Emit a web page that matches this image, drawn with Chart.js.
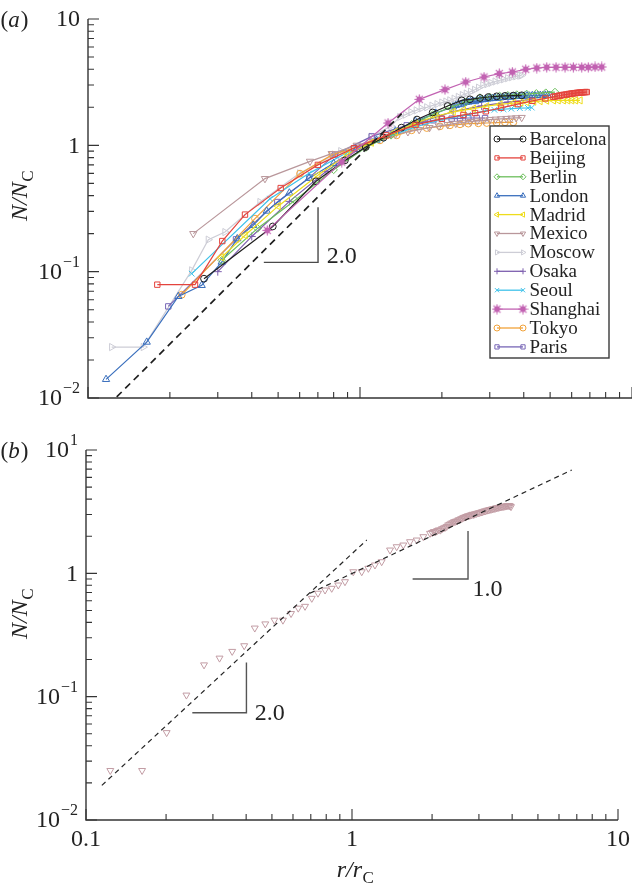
<!DOCTYPE html>
<html lang="en">
<head>
<meta charset="utf-8">
<title>N/N_C versus r/r_C</title>
<script src="https://cdn.jsdelivr.net/npm/chart.js@4.4.1/dist/chart.umd.min.js"></script>
<style>
  html, body { margin: 0; padding: 0; background: #fff; }
  #page { position: relative; width: 632px; height: 890px; overflow: hidden; }
  #page canvas { position: absolute; left: 0; }
  #chartA { top: 0; }
  #chartB { top: 430px; }
</style>
</head>
<body>
<div id="page">
  <canvas id="chartA" width="632" height="430"></canvas>
  <canvas id="chartB" width="632" height="460"></canvas>
</div>
<script>
// 1. data, panel (a): one x / y pair per city
const cities = ['Barcelona', 'Beijing', 'Berlin', 'London', 'Madrid', 'Mexico',
                'Moscow', 'Osaka', 'Seoul', 'Shanghai', 'Tokyo', 'Paris'];

const barcelonaX = [0.267, 0.478, 0.689, 0.88, 1.05, 1.22, 1.42, 1.62, 1.85, 2.1, 2.365, 2.537, 2.762, 2.963, 3.18, 3.412, 3.661, 3.932];
const barcelonaY = [0.088, 0.228, 0.519, 0.76, 0.97, 1.15, 1.38, 1.6, 1.82, 2.05, 2.271, 2.313, 2.369, 2.412, 2.443, 2.463, 2.477, 2.489];

const beijingX = [0.1798, 0.2474, 0.3117, 0.3777, 0.511, 0.7, 0.95, 1.25, 1.6, 2.0, 2.4, 2.65, 2.9, 3.3, 3.8, 4.3, 4.8,
                  5.14, 5.22, 5.3, 5.38, 5.46, 5.54, 5.62, 5.7, 5.78, 5.86, 5.94, 6.02, 6.1, 6.18, 6.26, 6.34, 6.42, 6.5, 6.58, 6.66, 6.74, 6.82];
const beijingY = [0.0789, 0.0789, 0.1747, 0.283, 0.459, 0.7, 0.95, 1.2, 1.45, 1.62, 1.74, 1.8, 1.86, 1.98, 2.12, 2.25, 2.35,
                  2.42, 2.44, 2.45, 2.47, 2.48, 2.5, 2.51, 2.52, 2.53, 2.55, 2.56, 2.57, 2.58, 2.59, 2.6, 2.61, 2.61, 2.62, 2.63, 2.63, 2.64, 2.64];

const berlinX = [0.31, 0.42, 0.577, 0.8, 1.05, 1.3, 1.55, 1.85, 2.15, 2.45, 2.76, 3.0, 3.26, 3.5, 3.77, 4.1, 4.45, 4.82, 5.21];
const berlinY = [0.123, 0.22, 0.367, 0.64, 0.96, 1.2, 1.47, 1.75, 2.0, 2.2, 2.386, 2.412, 2.463, 2.489, 2.52, 2.55, 2.58, 2.61, 2.642];

const londonX = [0.1165, 0.1644, 0.2148, 0.2618, 0.31, 0.3538, 0.4049, 0.4539, 0.55, 0.65, 0.8, 0.97, 1.15, 1.35, 1.6, 1.9,
                 2.2, 2.25, 2.3, 2.35, 2.4, 2.45, 2.5, 2.55, 2.6, 2.65, 2.7, 2.76, 2.82, 2.88, 2.94, 3.0, 3.07, 3.14, 3.21, 3.28,
                 3.35, 3.43, 3.51, 3.59, 3.67, 3.75, 3.84, 3.93, 4.02, 4.11, 4.2, 4.3, 4.4, 4.5, 4.6, 4.7, 4.8, 4.9, 4.99];
const londonY = [0.01404, 0.0277, 0.0637, 0.0779, 0.1191, 0.1825, 0.2326, 0.302, 0.42, 0.55, 0.72, 0.93, 1.1, 1.3, 1.55, 1.8,
                 2.02, 2.07, 2.12, 2.1, 2.16, 2.19, 2.2, 2.23, 2.24, 2.22, 2.27, 2.29, 2.3, 2.31, 2.33, 2.34, 2.35, 2.37, 2.36, 2.38,
                 2.4, 2.41, 2.42, 2.41, 2.43, 2.44, 2.45, 2.44, 2.46, 2.47, 2.46, 2.48, 2.47, 2.48, 2.49, 2.48, 2.5, 2.49, 2.49];

const madridX = [0.31, 0.378, 0.5, 0.7, 0.9, 1.1, 1.35, 1.6, 1.9, 2.2, 2.4, 2.61, 2.92, 3.27, 3.66, 3.9, 4.1, 4.35, 4.59, 4.85, 5.14, 5.35, 5.59, 5.8, 6.0, 6.2, 6.44];
const madridY = [0.13, 0.194, 0.33, 0.58, 0.85, 1.05, 1.28, 1.5, 1.7, 1.84, 1.9, 1.95, 2.04, 2.11, 2.16, 2.18, 2.2, 2.22, 2.24, 2.26, 2.27, 2.27, 2.27, 2.27, 2.27, 2.27, 2.27];

const mexicoX = [0.2438, 0.4473, 0.6548, 0.787, 0.9725, 1.218, 1.35, 1.5, 1.65, 1.8, 1.95, 2.1, 2.25, 2.4, 2.55, 2.7, 2.85, 3.0, 3.15, 3.3, 3.45, 3.6, 3.75, 3.93];
const mexicoY = [0.2, 0.545, 0.747, 0.86, 1.0, 1.163, 1.22, 1.28, 1.33, 1.38, 1.42, 1.46, 1.49, 1.52, 1.54, 1.56, 1.58, 1.6, 1.61, 1.62, 1.63, 1.64, 1.65, 1.66];

const moscowX = [0.1222, 0.1597, 0.2406, 0.2769, 0.3188, 0.4289, 0.6, 0.85, 1.1, 1.3, 1.4, 1.47, 1.54, 1.61, 1.68, 1.76, 1.84, 1.92, 2.0, 2.07, 2.14, 2.22, 2.3, 2.38, 2.46, 2.55, 2.64, 2.73, 2.83, 2.93, 3.03, 3.14, 3.25, 3.37, 3.49, 3.61, 3.74, 3.87, 3.93];
const moscowY = [0.0253, 0.0253, 0.1024, 0.1792, 0.2058, 0.356, 0.6, 0.9, 1.17, 1.42, 1.675, 1.75, 1.83, 1.89, 1.96, 2.0, 2.06, 2.12, 2.18, 2.22, 2.27, 2.34, 2.42, 2.5, 2.57, 2.66, 2.75, 2.86, 2.99, 3.05, 3.12, 3.2, 3.26, 3.33, 3.4, 3.46, 3.52, 3.56, 3.58];

const osakaX = [0.3, 0.4, 0.55, 0.75, 1.0, 1.3, 1.7, 2.2, 2.8, 3.5, 4.2];
const osakaY = [0.1, 0.19, 0.36, 0.62, 0.95, 1.22, 1.55, 1.85, 2.05, 2.2, 2.3];

const seoulX = [0.2406, 0.4668, 0.65, 0.9, 1.2, 1.6, 2.0, 2.5, 2.924, 3.12, 3.37, 3.6, 3.87, 4.14, 4.28];
const seoulY = [0.0964, 0.378, 0.6, 0.88, 1.12, 1.4, 1.6, 1.75, 1.893, 1.91, 1.93, 1.95, 1.97, 1.98, 1.989];

const shanghaiX = [0.4562, 0.8565, 1.268, 1.652, 2.053, 2.447, 2.857, 3.251, 3.631, 4.067, 4.465, 4.859, 5.256, 5.672, 6.085, 6.534, 6.908, 7.311, 7.737];
const shanghaiY = [0.2123, 0.738, 1.502, 2.313, 2.761, 3.171, 3.474, 3.696, 3.805, 3.998, 4.093, 4.147, 4.147, 4.147, 4.147, 4.147, 4.147, 4.17, 4.17];

const tokyoX = [0.2211, 0.4111, 0.6018, 0.791, 1.184, 1.364, 1.549, 1.759, 1.968, 2.142, 2.332, 2.502, 2.723, 2.924, 3.18, 3.412, 3.661];
const tokyoY = [0.0657, 0.263, 0.597, 0.844, 1.095, 1.2, 1.315, 1.371, 1.414, 1.44, 1.466, 1.485, 1.494, 1.502, 1.51, 1.521, 1.521];

const parisX = [0.1973, 0.35, 0.4966, 0.6509, 0.809, 1.104, 1.485, 1.616, 1.734, 1.86, 1.997, 2.173, 2.332, 2.502, 2.686, 2.882];
const parisY = [0.0531, 0.1802, 0.356, 0.555, 0.844, 1.178, 1.44, 1.494, 1.529, 1.578, 1.627, 1.627, 1.636, 1.645, 1.645, 1.645];

const cityX = [barcelonaX, beijingX, berlinX, londonX, madridX, mexicoX, moscowX, osakaX, seoulX, shanghaiX, tokyoX, parisX];
const cityY = [barcelonaY, beijingY, berlinY, londonY, madridY, mexicoY, moscowY, osakaY, seoulY, shanghaiY, tokyoY, parisY];

// 2. data, panel (b): Mexico alone
const mexicoBX = [0.1234, 0.1625, 0.201, 0.2385, 0.2778, 0.3177, 0.3545, 0.3933, 0.431, 0.472, 0.511, 0.55, 0.59, 0.628, 0.666, 0.706, 0.745, 0.792, 0.839, 0.888, 0.941, 1.011, 1.088, 1.152, 1.22, 1.293, 1.39, 1.472, 1.559, 1.652, 1.751, 1.854, 1.965,
                  2.0, 2.03, 2.06, 2.09, 2.12, 2.15, 2.18, 2.21, 2.24, 2.27, 2.3, 2.33, 2.36, 2.39, 2.42, 2.45, 2.48, 2.51, 2.54, 2.57,
                  2.6, 2.63, 2.66, 2.69, 2.72, 2.75, 2.78, 2.81, 2.84, 2.87, 2.9, 2.94, 2.98, 3.02, 3.06, 3.1, 3.14, 3.18, 3.22, 3.26,
                  3.3, 3.34, 3.38, 3.42, 3.46, 3.5, 3.54, 3.58, 3.62, 3.66, 3.7, 3.74, 3.78, 3.82, 3.86, 3.9, 3.93, 3.96];
const mexicoBY = [0.0252, 0.0252, 0.0511, 0.103, 0.181, 0.2053, 0.2328, 0.2588, 0.36, 0.389, 0.417, 0.417, 0.472, 0.522, 0.54, 0.627, 0.69, 0.732, 0.756, 0.804, 0.855, 1.03, 1.03, 1.098, 1.168, 1.242, 1.545, 1.643, 1.696, 1.804, 1.862, 1.981, 2.11,
                  2.14, 2.18, 2.17, 2.22, 2.25, 2.24, 2.3, 2.33, 2.36, 2.4, 2.47, 2.5, 2.55, 2.57, 2.62, 2.64, 2.66, 2.71, 2.72, 2.77,
                  2.8, 2.84, 2.86, 2.89, 2.92, 2.93, 2.96, 2.98, 3.01, 3.0, 3.04, 3.06, 3.09, 3.11, 3.14, 3.16, 3.2, 3.21, 3.25, 3.26,
                  3.29, 3.31, 3.33, 3.35, 3.37, 3.4, 3.41, 3.44, 3.45, 3.47, 3.48, 3.5, 3.51, 3.53, 3.54, 3.55, 3.52, 3.47];

// 3. reference lines and slope marks (data coordinates)
const guideAx = [0.1275, 1.423], guideAy = [0.0102, 1.78];
const slopeAx = [0.443, 0.701, 0.701], slopeAy = [0.1185, 0.1185, 0.323];
const guideB1x = [0.1147, 1.136], guideB1y = [0.0191, 1.862];
const guideB2x = [0.695, 6.70], guideB2y = [0.689, 6.88];
const slopeB1x = [0.251, 0.401, 0.401], slopeB1y = [0.0741, 0.0741, 0.189];
const slopeB2x = [1.69, 2.73, 2.73], slopeB2y = [0.899, 0.899, 2.20];

// 4. ticks
const xMajor = [0.1, 1, 10];
const xMinor = [0.2, 0.3, 0.4, 0.5, 0.6, 0.7, 0.8, 0.9, 2, 3, 4, 5, 6, 7, 8, 9];
const yMajor = [0.01, 0.1, 1, 10];
const yMinor = [0.02, 0.03, 0.04, 0.05, 0.06, 0.07, 0.08, 0.09, 0.2, 0.3, 0.4, 0.5, 0.6, 0.7, 0.8, 0.9, 2, 3, 4, 5, 6, 7, 8, 9];
const yTickLabelsA = ['10^\u22122', '10^\u22121', '1', '10'];
const yTickLabelsB = ['10^\u22122', '10^\u22121', '1', '10^1'];
const xTickLabelsB = ['0.1', '1', '10'];

const SERIF = '"Liberation Serif", "Times New Roman", serif';
const INK = '#232323';

function starMark(color) {
  const c = document.createElement('canvas');
  c.width = 11; c.height = 11;
  const g = c.getContext('2d');
  g.fillStyle = color; g.strokeStyle = color; g.lineWidth = 1.1;
  g.beginPath(); g.arc(5.5, 5.5, 2.9, 0, Math.PI * 2); g.fill();
  g.beginPath();
  for (let k = 0; k < 4; k++) {
    const a = k * Math.PI / 4;
    g.moveTo(5.5 - 5 * Math.cos(a), 5.5 - 5 * Math.sin(a));
    g.lineTo(5.5 + 5 * Math.cos(a), 5.5 + 5 * Math.sin(a));
  }
  g.stroke();
  return c;
}

const cityStyle = {
  Barcelona: { color: '#1f1f1f', point: 'circle', r: 3.4, order: 2 },
  Beijing:   { color: '#e4433d', point: 'rect', r: 3.8, order: 1 },
  Berlin:    { color: '#6cbf5c', point: 'rectRot', r: 3.8, order: 4 },
  London:    { color: '#3a6fbd', point: 'triangle', r: 4.2, order: 5 },
  Madrid:    { color: '#eedc1c', point: 'triangle', rot: 270, r: 4.2, order: 3 },
  Mexico:    { color: '#b9979b', point: 'triangle', rot: 180, r: 4.2, order: 8 },
  Moscow:    { color: '#cdcdd6', point: 'triangle', rot: 90, r: 4.2, order: 11 },
  Osaka:     { color: '#7d5eae', point: 'cross', r: 4, order: 6 },
  Seoul:     { color: '#3fc2ea', point: 'crossRot', r: 4, order: 7 },
  Shanghai:  { color: '#c262b2', point: starMark('#c262b2'), r: 4, order: 0 },
  Tokyo:     { color: '#f1a23a', point: 'circle', r: 3.4, order: 9 },
  Paris:     { color: '#7766b6', point: 'rect', r: 3.8, order: 10 }
};

const pts = (xs, ys) => xs.map((x, i) => ({ x: x, y: ys[i] }));

function drawMarker(ctx, s, x, y, r) {
  ctx.save();
  ctx.strokeStyle = s.color;
  ctx.fillStyle = 'rgba(0,0,0,0)';
  ctx.lineWidth = 1;
  if (Chart.helpers && Chart.helpers.drawPoint) {
    Chart.helpers.drawPoint(ctx, { pointStyle: s.point, rotation: s.rot || 0, radius: r, borderWidth: 1 }, x, y);
  } else {
    ctx.beginPath(); ctx.arc(x, y, r, 0, Math.PI * 2); ctx.stroke();
  }
  ctx.restore();
}

// "10^-1" style labels
function drawSup(ctx, label, x, y, align) {
  const parts = label.split('^');
  ctx.font = '24px ' + SERIF;
  const bw = ctx.measureText(parts[0]).width;
  let ew = 0;
  if (parts[1]) { ctx.font = '16px ' + SERIF; ew = ctx.measureText(parts[1]).width + 1; }
  const x0 = align === 'right' ? x - bw - ew : x - (bw + ew) / 2;
  ctx.textAlign = 'left';
  ctx.textBaseline = 'middle';
  ctx.font = '24px ' + SERIF;
  ctx.fillText(parts[0], x0, y);
  if (parts[1]) { ctx.font = '16px ' + SERIF; ctx.fillText(parts[1], x0 + bw + 1, y - 10); }
}

// N/N_C and r/r_C
function drawRatio(ctx, sym, cx, cy, vertical) {
  ctx.save();
  ctx.translate(cx, cy);
  if (vertical) ctx.rotate(-Math.PI / 2);
  const main = sym + '/' + sym;
  ctx.font = 'italic 24px ' + SERIF;
  const mw = ctx.measureText(main).width;
  ctx.font = '17px ' + SERIF;
  const sw = ctx.measureText('C').width;
  const x0 = -(mw + sw) / 2;
  ctx.textAlign = 'left';
  ctx.textBaseline = 'alphabetic';
  ctx.fillStyle = INK;
  ctx.font = 'italic 24px ' + SERIF;
  ctx.fillText(main, x0, 7);
  ctx.font = '17px ' + SERIF;
  ctx.fillText('C', x0 + mw + 0.5, 13);
  ctx.restore();
}

function drawPanelTag(ctx, letter, cx, cy) {
  ctx.save();
  ctx.fillStyle = INK;
  ctx.textBaseline = 'middle';
  ctx.textAlign = 'left';
  ctx.font = '23px ' + SERIF;
  const pw = ctx.measureText('(').width;
  ctx.font = 'italic 23px ' + SERIF;
  const lw = ctx.measureText(letter).width;
  const x = cx - (2 * pw + lw) / 2;
  ctx.font = '23px ' + SERIF; ctx.fillText('(', x, cy);
  ctx.font = 'italic 23px ' + SERIF; ctx.fillText(letter, x + pw, cy);
  ctx.font = '23px ' + SERIF; ctx.fillText(')', x + pw + lw + 1, cy);
  ctx.restore();
}

function framePlugin(opt) {
  return {
    id: 'frame',
    afterDraw(chart) {
      const ctx = chart.ctx;
      const a = chart.chartArea;
      const xs = chart.scales.x, ys = chart.scales.y;
      ctx.save();
      // axes
      ctx.strokeStyle = '#343434';
      ctx.lineWidth = 1.4;
      ctx.beginPath();
      ctx.moveTo(a.left, ys.getPixelForValue(10));
      ctx.lineTo(a.left, a.bottom);
      ctx.lineTo(a.right, a.bottom);
      ctx.stroke();
      // inward ticks
      ctx.lineWidth = 1.1;
      ctx.beginPath();
      xMajor.forEach(v => { const p = xs.getPixelForValue(v); ctx.moveTo(p, a.bottom); ctx.lineTo(p, a.bottom - 11); });
      xMinor.forEach(v => { const p = xs.getPixelForValue(v); ctx.moveTo(p, a.bottom); ctx.lineTo(p, a.bottom - 6); });
      yMajor.forEach(v => { const p = ys.getPixelForValue(v); ctx.moveTo(a.left, p); ctx.lineTo(a.left + 11, p); });
      yMinor.forEach(v => { const p = ys.getPixelForValue(v); ctx.moveTo(a.left, p); ctx.lineTo(a.left + 6, p); });
      ctx.stroke();
      // tick labels
      ctx.fillStyle = INK;
      yMajor.forEach((v, i) => drawSup(ctx, opt.yLabels[i], a.left - 8, ys.getPixelForValue(v) + 1, 'right'));
      if (opt.xLabels) {
        xMajor.forEach((v, i) => drawSup(ctx, opt.xLabels[i], xs.getPixelForValue(v), a.bottom + 20, 'center'));
      }
      // slope numbers
      ctx.font = '24px ' + SERIF;
      ctx.textAlign = 'left';
      ctx.textBaseline = 'middle';
      opt.notes.forEach(n => ctx.fillText(n.text, xs.getPixelForValue(n.x), ys.getPixelForValue(n.y)));
      // titles
      drawRatio(ctx, 'N', opt.yTitle[0], opt.yTitle[1], true);
      if (opt.xTitle) drawRatio(ctx, 'r', xs.getPixelForValue(1) + 3, opt.xTitle[1], false);
      drawPanelTag(ctx, opt.tag, opt.tagPos[0], opt.tagPos[1]);
      // legend
      if (opt.legend) {
        const bx = 490, by = 126, bw = 119, bh = 232;
        ctx.fillStyle = '#fff';
        ctx.fillRect(bx, by, bw, bh);
        ctx.strokeStyle = '#3a3a3a';
        ctx.lineWidth = 1.4;
        ctx.strokeRect(bx, by, bw, bh);
        cities.forEach((name, i) => {
          const s = cityStyle[name];
          const y = 139 + i * 18.9;
          ctx.strokeStyle = s.color;
          ctx.lineWidth = 1.3;
          ctx.beginPath(); ctx.moveTo(497, y); ctx.lineTo(523, y); ctx.stroke();
          drawMarker(ctx, s, 497, y, 3);
          drawMarker(ctx, s, 523, y, 3);
          ctx.fillStyle = INK;
          ctx.font = '19px ' + SERIF;
          ctx.textAlign = 'left';
          ctx.textBaseline = 'middle';
          ctx.fillText(name, 529.5, y + 1);
        });
      }
      ctx.restore();
    }
  };
}

function logScales() {
  return {
    x: { type: 'logarithmic', min: 0.1, max: 10, display: false },
    y: { type: 'logarithmic', min: 0.01, max: 10, display: false }
  };
}

function lineSet(xs, ys, color, width, dash) {
  return { data: pts(xs, ys), showLine: true, borderColor: color, borderWidth: width,
           borderDash: dash || [], pointRadius: 0, order: -1 };
}

// 5. panel (a)
const datasetsA = cities.map((name, i) => {
  const s = cityStyle[name];
  return {
    label: name,
    data: pts(cityX[i], cityY[i]),
    showLine: true,
    borderColor: s.color,
    borderWidth: 1.2,
    pointStyle: s.point,
    pointRotation: s.rot || 0,
    pointRadius: s.r,
    pointBorderColor: s.color,
    pointBackgroundColor: 'rgba(0,0,0,0)',
    pointBorderWidth: 1,
    order: s.order
  };
});
datasetsA.push(lineSet(guideAx, guideAy, '#1e1e1e', 1.7, [7, 5]));
datasetsA.push(lineSet(slopeAx, slopeAy, '#4a4a4a', 1.4));

new Chart(document.getElementById('chartA'), {
  type: 'scatter',
  data: { datasets: datasetsA },
  options: {
    responsive: false,
    animation: false,
    events: [],
    layout: { autoPadding: false, padding: { left: 88, right: 0, top: 19, bottom: 32 } },
    plugins: { legend: { display: false }, tooltip: { enabled: false } },
    scales: logScales()
  },
  plugins: [framePlugin({
    yLabels: yTickLabelsA, xLabels: null,
    notes: [{ text: '2.0', x: 0.754, y: 0.131 }],
    yTitle: [20, 196], xTitle: null,
    tag: 'a', tagPos: [14, 21], legend: true
  })]
});

// 6. panel (b)
new Chart(document.getElementById('chartB'), {
  type: 'scatter',
  data: {
    datasets: [
      {
        label: 'Mexico',
        data: pts(mexicoBX, mexicoBY),
        showLine: false,
        pointStyle: 'triangle',
        pointRotation: 180,
        pointRadius: 4,
        pointBorderColor: '#c29ca4',
        pointBackgroundColor: 'rgba(0,0,0,0)',
        pointBorderWidth: 1,
        order: 2
      },
      lineSet(guideB1x, guideB1y, '#262626', 1.2, [5, 4]),
      lineSet(guideB2x, guideB2y, '#262626', 1.2, [5, 4]),
      lineSet(slopeB1x, slopeB1y, '#555555', 1.4),
      lineSet(slopeB2x, slopeB2y, '#555555', 1.4)
    ]
  },
  options: {
    responsive: false,
    animation: false,
    events: [],
    layout: { autoPadding: false, padding: { left: 86, right: 14, top: 20, bottom: 70 } },
    plugins: { legend: { display: false }, tooltip: { enabled: false } },
    scales: logScales()
  },
  plugins: [framePlugin({
    yLabels: yTickLabelsB, xLabels: xTickLabelsB,
    notes: [{ text: '2.0', x: 0.431, y: 0.0727 }, { text: '1.0', x: 2.84, y: 0.732 }],
    yTitle: [20, 184], xTitle: [0, 440],
    tag: 'b', tagPos: [14, 22], legend: false
  })]
});
</script>
</body>
</html>
